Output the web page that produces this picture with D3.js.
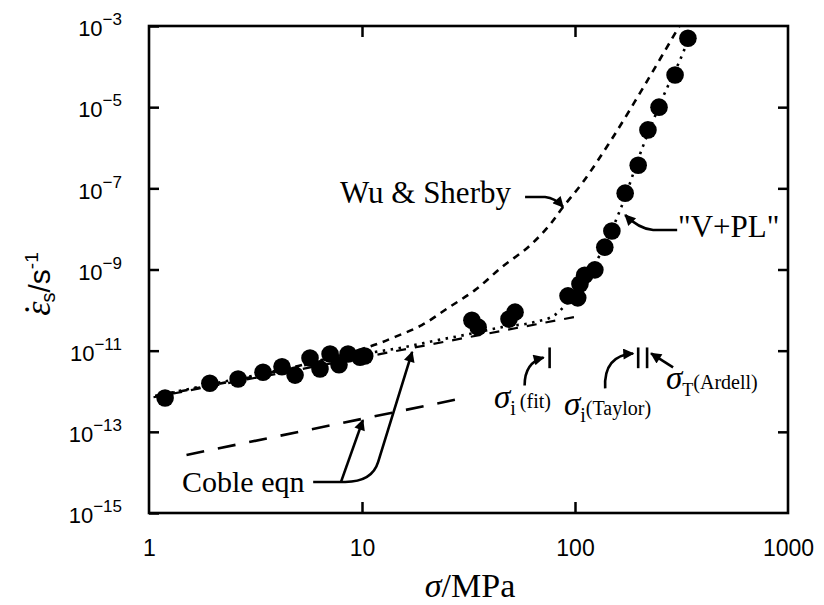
<!DOCTYPE html>
<html>
<head>
<meta charset="utf-8">
<script src="https://cdn.jsdelivr.net/npm/d3@7"></script>
<style>
  body { margin: 0; background: #fff; }
  text { fill: #000; }
</style>
</head>
<body>
<svg id="chart" width="824" height="605"></svg>
<script>
// Measured creep data (stress in MPa, steady-state strain rate in 1/s)
const stress = [1.19, 1.93, 2.62, 3.43, 4.21, 4.85, 5.70, 6.35, 7.08, 7.80, 8.60, 9.79, 10.3,
  32.8, 35.1, 49.0, 52.3, 92.7, 103, 105.5, 111, 124,
  138, 149, 172, 198, 220, 248, 295, 339];
const rate = [6.8e-13, 1.58e-12, 2.0e-12, 2.95e-12, 4.0e-12, 2.5e-12, 6.6e-12, 3.55e-12, 8.3e-12, 4.5e-12, 8.3e-12, 6.9e-12, 7.4e-12,
  5.6e-11, 3.8e-11, 6.0e-11, 8.9e-11, 2.24e-10, 2.0e-10, 4.4e-10, 7.2e-10, 9.8e-10,
  3.55e-9, 8.9e-9, 7.6e-8, 3.7e-7, 2.75e-6, 1.0e-5, 6.2e-5, 5.0e-4];

// Model curves: [stress, rate]
const cobleUpper = [[1.05, 7.1e-13], [103, 7.0e-11]];
const cobleLower = [[1.5, 2.7e-14], [30, 6.8e-13]];
const wuSherby = [[1.07, 7.6e-13], [3.32, 2.5e-12], [10.7, 1.23e-11], [14.3, 2.19e-11], [19.1, 4.27e-11],
  [25.3, 1.12e-10], [33.9, 3.1e-10], [45.4, 1.15e-9], [60.2, 3.55e-9], [74.7, 1.12e-8],
  [87.9, 3.47e-8], [109, 1.43e-7], [151, 1.84e-6], [218, 4.4e-5], [309, 1e-3]];
const vPL = [[1.07, 7.6e-13], [3.32, 2.63e-12], [10.1, 8.3e-12], [15.9, 1.23e-11], [22.7, 1.82e-11],
  [30.5, 2.45e-11], [45.4, 3.8e-11], [64.9, 5.1e-11], [80.5, 7.6e-11], [89.8, 1.32e-10],
  [105.5, 4.2e-10], [121.5, 1.15e-9], [163, 2.95e-8], [208, 1.05e-6], [259, 1.78e-5],
  [321, 2.14e-4], [354, 7.9e-4]];

// Threshold stress markers (MPa)
const sigmaFit = 76;
const sigmaTaylor = 198;
const sigmaArdell = 218;
const markerRate = [3.7e-12, 1.2e-11];

const xTicks = [1, 10, 100, 1000];
const yTicks = [1e-15, 1e-13, 1e-11, 1e-9, 1e-7, 1e-5, 1e-3];

const SERIF = '"Liberation Serif", "Times New Roman", serif';
const SANS = '"Liberation Sans", Arial, Helvetica, sans-serif';

const svg = d3.select('#chart');
const pLeft = 149, pRight = 788, pTop = 26, pBottom = 513;

const x = d3.scaleLog().domain([1, 1000]).range([pLeft, pRight]);
const y = d3.scaleLog().domain([1e-15, 1e-3]).range([pBottom, pTop]);

// Arrowhead
const defs = svg.append('defs');
defs.append('marker')
  .attr('id', 'arrow')
  .attr('viewBox', '0 0 10 10')
  .attr('refX', 9).attr('refY', 5)
  .attr('markerUnits', 'userSpaceOnUse')
  .attr('markerWidth', 15).attr('markerHeight', 11)
  .attr('orient', 'auto')
  .append('path').attr('d', 'M0,0 L10,5 L0,10 z').attr('fill', '#000');

defs.append('clipPath').attr('id', 'plot-clip')
  .append('rect').attr('x', pLeft).attr('y', pTop).attr('width', pRight - pLeft).attr('height', pBottom - pTop);

// Axes (inward ticks on all four sides)
const tickLabel = sel => {
  sel.each(function(d) {
    const t = d3.select(this).text(null);
    t.append('tspan').text('10');
    t.append('tspan').attr('font-size', 17).attr('dy', -11).text('\u2212' + Math.round(-Math.log10(d)));
  });
};

const gLeft = svg.append('g').attr('transform', `translate(${pLeft},0)`)
  .call(d3.axisLeft(y).tickValues(yTicks).tickSize(-10).tickPadding(27));
gLeft.selectAll('text').attr('font-family', SANS).attr('font-size', 22).attr('dy', '0.44em')
  .call(tickLabel);

svg.append('g').attr('transform', `translate(${pRight},0)`)
  .call(d3.axisRight(y).tickValues(yTicks.slice(1, -1)).tickSize(-10).tickFormat(''));

const gBottom = svg.append('g').attr('transform', `translate(0,${pBottom})`)
  .call(d3.axisBottom(x).tickValues(xTicks).tickSize(-11).tickPadding(27).tickFormat(d3.format('d')));
gBottom.selectAll('text').attr('font-family', SANS).attr('font-size', 23);
gBottom.selectAll('.tick line').filter(d => d === 1 || d === 1000).remove();

svg.append('g').attr('transform', `translate(0,${pTop})`)
  .call(d3.axisTop(x).tickValues([10, 100]).tickSize(-11).tickFormat(''));

svg.selectAll('.domain').remove();
svg.selectAll('.tick line').attr('stroke', '#000').attr('stroke-width', 2.5);

svg.append('rect')
  .attr('x', pLeft).attr('y', pTop).attr('width', pRight - pLeft).attr('height', pBottom - pTop)
  .attr('fill', 'none').attr('stroke', '#000').attr('stroke-width', 2.6);

// Curves
const line = d3.line().x(d => x(d[0])).y(d => y(d[1]));
const smooth = d3.line().x(d => x(d[0])).y(d => y(d[1])).curve(d3.curveMonotoneX);
const spline = d3.line().x(d => x(d[0])).y(d => y(d[1])).curve(d3.curveCatmullRom.alpha(0.5));
const curves = svg.append('g').attr('clip-path', 'url(#plot-clip)').attr('fill', 'none').attr('stroke', '#000');

curves.append('path').attr('d', line(cobleUpper)).attr('stroke-width', 2.2).attr('stroke-dasharray', '10,9');
curves.append('path').attr('d', line(cobleLower)).attr('stroke-width', 2.6).attr('stroke-dasharray', '18,14');
curves.append('path').attr('d', spline(wuSherby)).attr('stroke-width', 2.6).attr('stroke-dasharray', '7,6');
curves.append('path').attr('d', smooth(vPL)).attr('stroke-width', 2.6).attr('stroke-dasharray', '2.5,5.5');

// Data points
svg.append('g').selectAll('circle')
  .data(stress.map((s, i) => [s, rate[i]]))
  .join('circle')
  .attr('cx', d => x(d[0]))
  .attr('cy', d => y(d[1]))
  .attr('r', 8.8)
  .attr('fill', '#000');

// Threshold bars
const bars = svg.append('g').attr('stroke', '#000').attr('stroke-width', 2.6);
[sigmaFit, sigmaTaylor, sigmaArdell].forEach(s => {
  bars.append('line')
    .attr('x1', x(s)).attr('x2', x(s))
    .attr('y1', y(markerRate[0])).attr('y2', y(markerRate[1]));
});

// Annotation arrows
const arrows = svg.append('g').attr('fill', 'none').attr('stroke', '#000').attr('stroke-width', 2.6)
  .attr('marker-end', 'url(#arrow)');
const ws = [x(87.9), y(3.47e-8)];
arrows.append('path').attr('d', `M${ws[0] - 38},${ws[1] - 10} L${ws[0] - 18},${ws[1] - 10} Q${ws[0] - 8},${ws[1] - 9} ${ws[0]},${ws[1]}`);
const vp = [x(172), y(2.2e-8)];
arrows.append('path').attr('d', `M${vp[0] + 52},${vp[1] + 15} L${vp[0] + 28},${vp[1] + 15} Q${vp[0] + 14},${vp[1] + 14} ${vp[0]},${vp[1]}`);
const cA = [x(10.1), y(1.95e-13)];
arrows.append('path').attr('d', `M${cA[0] - 22},${cA[1] + 62} L${cA[0]},${cA[1]}`);
const cB = [x(17.2), y(9.3e-12)];
arrows.append('path').attr('d', `M${cB[0] - 99},${cB[1] + 130} L${cB[0] - 67},${cB[1] + 130} Q${cB[0] - 40},${cB[1] + 130} ${cB[0] - 34},${cB[1] + 110} L${cB[0]},${cB[1]}`);
const fitTop = [x(sigmaFit), y(markerRate[1])];
arrows.append('path').attr('d', `M${fitTop[0] - 25},${fitTop[1] + 38} Q${fitTop[0] - 25},${fitTop[1] + 15} ${fitTop[0] - 6},${fitTop[1] + 10}`);
const tayTop = [x(sigmaTaylor), y(markerRate[1])];
arrows.append('path').attr('d', `M${tayTop[0] - 33},${tayTop[1] + 41} Q${tayTop[0] - 35},${tayTop[1] + 8} ${tayTop[0] - 5},${tayTop[1] + 6}`);
const ardTop = [x(sigmaArdell), y(markerRate[1])];
arrows.append('path').attr('d', `M${ardTop[0] + 26},${ardTop[1] + 20} L${ardTop[0] + 4},${ardTop[1] + 6}`);

// Annotation text
const ann = svg.append('g').attr('font-family', SERIF);
ann.append('text').attr('x', 340).attr('y', 203).attr('font-size', 31).text('Wu & Sherby');
ann.append('text').attr('x', 678).attr('y', 237).attr('font-size', 31).text('"V+PL"');
ann.append('text').attr('x', 182).attr('y', 492).attr('font-size', 30).text('Coble eqn');

const sigmaText = (x0, y0, sub, paren, subSize) => {
  const t = ann.append('text').attr('x', x0).attr('y', y0);
  t.append('tspan').attr('font-size', 33).attr('font-style', 'italic').text('\u03c3');
  t.append('tspan').attr('font-size', subSize).attr('dy', 7).text(sub);
  t.append('tspan').attr('font-size', 20).attr('dy', -7).text(paren);
};
sigmaText(494, 408, 'i', '\u2009(fit)', 20);
sigmaText(564, 415, 'i', '(Taylor)', 20);
sigmaText(666, 389, 'T', '(Ardell)', 18);

// Axis titles
const xt = svg.append('text').attr('x', 470).attr('y', 597).attr('text-anchor', 'middle')
  .attr('font-family', SERIF).attr('font-size', 34);
xt.append('tspan').attr('font-style', 'italic').text('\u03c3');
xt.append('tspan').text('/MPa');

const yt = svg.append('text').attr('transform', 'translate(50,284) rotate(-90)').attr('text-anchor', 'middle');
yt.append('tspan').attr('font-family', SERIF).attr('font-style', 'italic').attr('font-size', 36).text('\u03b5');
yt.append('tspan').attr('font-family', SERIF).attr('font-size', 36).attr('dx', -14).attr('dy', -1).text('\u02d9');
yt.append('tspan').attr('font-family', SANS).attr('font-size', 20).attr('dx', 1).attr('dy', 6).text('s');
yt.append('tspan').attr('font-family', SANS).attr('font-size', 30).attr('dy', -5).text('/s');
yt.append('tspan').attr('font-family', SANS).attr('font-size', 19).attr('dy', -12).text('-1');
</script>
</body>
</html>
